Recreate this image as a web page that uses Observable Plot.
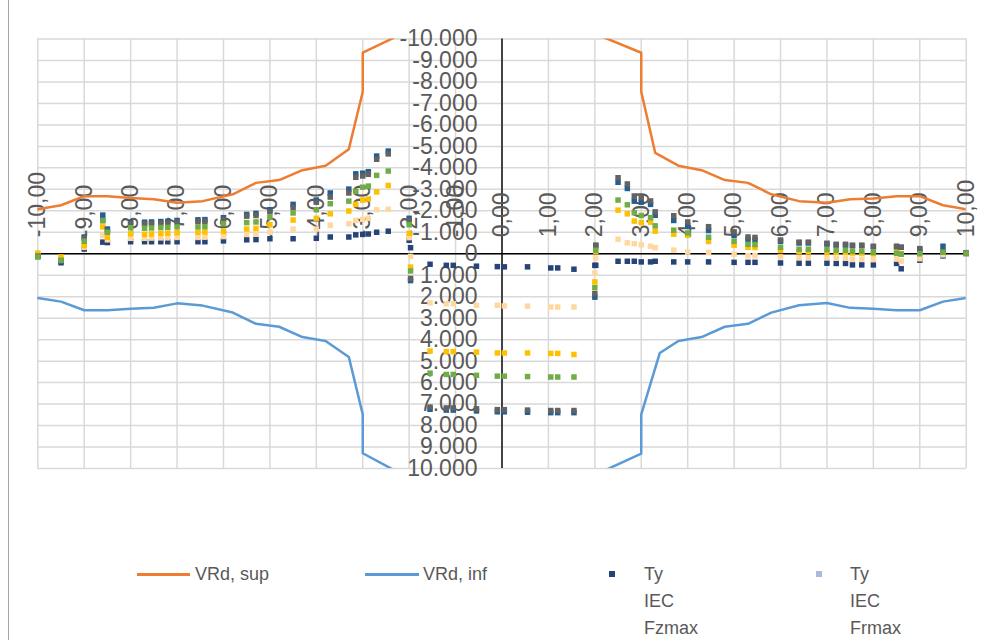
<!DOCTYPE html>
<html><head><meta charset="utf-8">
<script src="https://cdn.jsdelivr.net/npm/d3@7"></script>
<script src="https://cdn.jsdelivr.net/npm/@observablehq/plot@0.6"></script>
<style>
html,body{margin:0;padding:0;background:#fff;overflow:hidden;width:984px;height:640px;position:relative;}
#border{position:absolute;left:8px;top:0;width:1px;height:640px;background:#a6a6a6;}
#chart{position:absolute;left:0;top:0;}
.lg{position:absolute;font-family:"Liberation Sans",Arial,sans-serif;font-size:18px;color:#595959;line-height:27px;white-space:nowrap;}
.sw{position:absolute;}
</style></head><body>
<div id="border"></div>
<div id="chart"></div>
<div id="legend"></div>
<script>
// ---- data ----
const xTicks = [-10,-9,-8,-7,-6,-5,-4,-3,-2,-1,0,1,2,3,4,5,6,7,8,9,10];
const yTicks = [-10000,-9000,-8000,-7000,-6000,-5000,-4000,-3000,-2000,-1000,0,1000,2000,3000,4000,5000,6000,7000,8000,9000,10000];

// VRd envelopes
const supX = [-10,-9.5,-9,-8.5,-8,-7.5,-7,-6.45,-5.8,-5.3,-4.8,-4.3,-3.8,-3.3,-3,-3,-2,2,3,3,3.3,3.8,4.3,4.8,5.3,5.8,6.4,7,7.5,8,8.5,9,9.5,10];
const supY = [-2075,-2260,-2680,-2680,-2600,-2540,-2370,-2450,-2770,-3300,-3430,-3890,-4100,-4870,-7540,-9360,-10400,-10250,-9360,-7540,-4700,-4100,-3890,-3430,-3300,-2770,-2450,-2370,-2540,-2570,-2680,-2680,-2260,-2075];
const infX = [-10,-9.5,-9,-8.5,-8,-7.5,-7,-6.45,-5.8,-5.3,-4.8,-4.3,-3.8,-3.3,-3,-3,-2,2,3,3,3.4,3.8,4.3,4.8,5.3,5.8,6.4,7,7.5,8,8.5,9,9.5,10];
const infY = [2060,2230,2630,2630,2560,2510,2310,2415,2740,3260,3400,3880,4060,4810,7480,9290,10450,10300,9310,7480,4620,4060,3880,3400,3260,2740,2400,2290,2520,2560,2630,2630,2230,2060];

// Ty load series: shared x positions
const tyX = [-10,-9.5,-9,-8.6,-8.5,-8,-7.7,-7.55,-7.35,-7.2,-7,-6.55,-6.4,-6,-5.5,-5.3,-5,-4.5,-4,-3.7,-3.3,-3.15,-3,-2.88,-2.7,-2.45,-2,-1.97,-1.55,-1.2,-1.05,-0.55,-0.1,0.05,0.55,1.05,1.2,1.55,2,2.02,2.5,2.7,2.85,3,3.2,3.3,3.7,4,4.45,5,5.3,5.45,6,6.4,6.6,7,7.2,7.4,7.55,7.75,8,8.5,8.6,9,9.5,10];
const tyNavy  = [100,420,-220,-540,-520,-560,-560,-560,-560,-560,-560,-560,-560,-600,-650,-660,-700,-700,-720,-780,-780,-880,-900,-920,-1000,-1050,-630,-280,490,540,540,580,600,610,610,660,660,720,540,540,350,350,350,380,380,350,380,380,380,400,400,400,430,440,440,440,450,450,520,520,520,450,700,300,100,0];
const tyPeach = [100,250,-300,-850,-650,-720,-720,-730,-740,-740,-760,-760,-770,-800,-900,-920,-1000,-1150,-1150,-1330,-1400,-1550,-1600,-1650,-2050,-2070,-750,120,2290,2330,2330,2400,2400,2430,2440,2480,2480,2480,900,200,-680,-510,-470,-420,-350,-280,-170,-80,-60,20,90,90,150,180,180,180,210,210,250,250,270,250,340,230,50,0];
const tyGold  = [-30,150,-380,-1250,-770,-930,-900,-920,-950,-960,-980,-1000,-1010,-1050,-1150,-1180,-1350,-1570,-1650,-1860,-1990,-2300,-2500,-2550,-2880,-3180,-950,620,4530,4560,4560,4580,4620,4620,4620,4640,4640,4690,1310,-100,-2030,-1860,-1520,-1450,-1470,-1050,-910,-860,-570,-400,-300,-290,-150,-100,-100,-80,-60,-60,-30,-30,0,-100,0,-80,-80,-30];
const tyBlue  = [120,350,-780,-1800,-1150,-1470,-1470,-1480,-1500,-1510,-1550,-1580,-1590,-1680,-1830,-1880,-2050,-2300,-2500,-2830,-3010,-3720,-3750,-3820,-4550,-4780,-1650,1250,7240,7280,7280,7320,7360,7360,7380,7400,7400,7400,2020,-380,-3330,-3040,-2450,-2400,-2300,-1790,-1550,-1310,-1080,-850,-650,-640,-580,-500,-500,-450,-400,-400,-370,-370,-320,-330,-300,-200,-350,-50];
const tyGray  = [130,330,-720,-1560,-1050,-1400,-1400,-1410,-1420,-1430,-1460,-1500,-1510,-1600,-1750,-1780,-1950,-2150,-2400,-2640,-2830,-3560,-3620,-3700,-4400,-4650,-1550,1150,7140,7180,7180,7220,7260,7260,7280,7300,7300,7300,1860,-400,-3540,-3250,-2690,-2600,-2460,-1950,-1770,-1480,-1260,-1020,-780,-760,-640,-540,-540,-490,-440,-440,-400,-400,-350,-350,-300,-240,-100,-40];
const tyGreen = [150,300,-580,-1530,-1000,-1210,-1190,-1200,-1220,-1230,-1250,-1250,-1260,-1400,-1450,-1480,-1700,-1900,-2050,-2330,-2450,-2900,-3100,-3150,-3650,-3850,-1350,800,5560,5620,5620,5660,5700,5700,5720,5740,5740,5740,1580,-160,-2500,-2280,-1910,-1780,-1680,-1300,-1100,-970,-770,-580,-440,-430,-300,-210,-210,-190,-160,-160,-110,-110,-60,-20,20,0,-70,-30];

const legendNames = ["VRd, sup", "VRd, inf", "Ty IEC Fzmax", "Ty IEC Frmax"];

// ---- build ----
const series = [
  {v: tyNavy,  c: "#264478"},
  {v: tyPeach, c: "#FFD8A0"},
  {v: tyGold,  c: "#FFC000"},
  {v: tyBlue,  c: "#255E91"},
  {v: tyGray,  c: "#636363"},
  {v: tyGreen, c: "#70AD47"}
];
const pts = s => tyX.map((x, i) => ({x, y: s.v[i]}));
const sup = supX.map((x, i) => ({x, y: supY[i]}));
const inf = infX.map((x, i) => ({x, y: infY[i]}));

const fmtY = v => v === 0 ? "0" : (v < 0 ? "-" : "") + d3.format(",")(Math.abs(v)).replace(/,/g, ".");
const fmtX = v => (v < 0 ? "-" : "") + Math.abs(v).toFixed(2).replace(".", ",");

const FONT = "Liberation Sans, Arial, sans-serif";
const svg = Plot.plot({
  width: 984, height: 480,
  marginLeft: 37.3, marginRight: 18.3, marginTop: 38.5, marginBottom: 12,
  x: {domain: [-10, 10], axis: null},
  y: {domain: [-10000, 10000], reverse: true, axis: null},
  style: {background: "transparent", overflow: "visible", fontFamily: FONT},
  marks: [
    Plot.ruleX(xTicks, {stroke: "#d9d9d9", strokeWidth: 1.5}),
    Plot.ruleY(yTicks, {stroke: "#d9d9d9", strokeWidth: 1.5}),
    Plot.ruleX([0], {stroke: "#000", strokeWidth: 1.4}),
    Plot.ruleY([0], {stroke: "#000", strokeWidth: 1.4}),
    Plot.text(yTicks, {x: 0, y: d => d, text: fmtY, textAnchor: "end", dx: -24.5, fontSize: 23, fill: "#595959"}),
    Plot.text(xTicks, {x: d => d, y: 0, text: fmtX, rotate: -90, textAnchor: "start", dy: -16.5, fontSize: 23, fill: "#595959"}),
    Plot.line(sup, {x: "x", y: "y", stroke: "#ED7D31", strokeWidth: 2.5, clip: true}),
    Plot.line(inf, {x: "x", y: "y", stroke: "#5B9BD5", strokeWidth: 2.5, clip: true}),
    ...series.map(s => Plot.dot(pts(s), {x: "x", y: "y", symbol: "square", r: 3.1, fill: s.c}))
  ]
});
document.getElementById("chart").appendChild(svg);

// ---- legend ----
const lg = document.getElementById("legend");
function add(html) { lg.insertAdjacentHTML("beforeend", html); }
add(`<div class="sw" style="left:137px;top:573px;width:53px;height:2.5px;background:#ED7D31"></div>`);
add(`<div class="lg" style="left:195px;top:561px">${legendNames[0]}</div>`);
add(`<div class="sw" style="left:365px;top:573px;width:54px;height:2.5px;background:#5B9BD5"></div>`);
add(`<div class="lg" style="left:423px;top:561px">${legendNames[1]}</div>`);
add(`<div class="sw" style="left:609px;top:571px;width:6px;height:6px;background:#264478"></div>`);
add(`<div class="lg" style="left:644px;top:561px">${legendNames[2].split(" ").join("<br>")}</div>`);
add(`<div class="sw" style="left:816px;top:571px;width:6px;height:6px;background:#A9B9E0"></div>`);
add(`<div class="lg" style="left:850px;top:561px">${legendNames[3].split(" ").join("<br>")}</div>`);
</script>
</body></html>
